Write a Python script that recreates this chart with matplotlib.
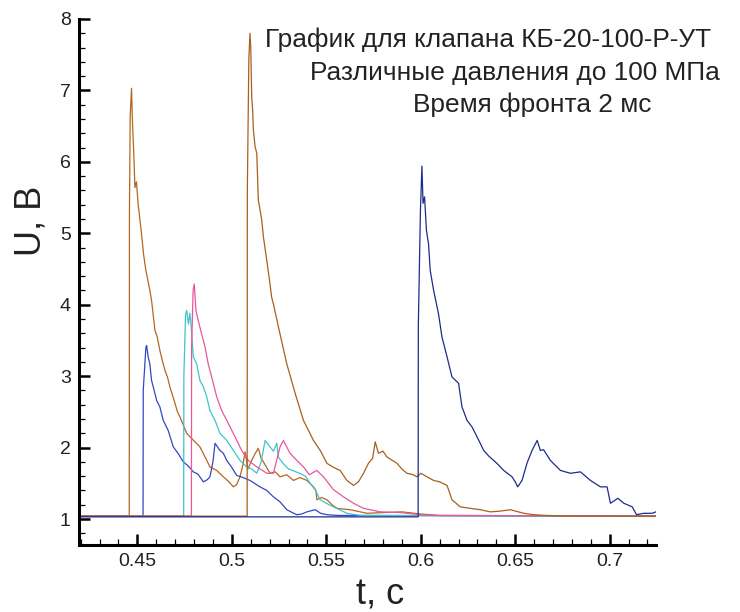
import matplotlib
matplotlib.use("Agg")
from matplotlib import pyplot as plt
from matplotlib.ticker import MultipleLocator

plt.rcParams['font.family'] = ['Liberation Sans', 'DejaVu Sans']

# baseline level of all signals
base = 1.04
t_start = 0.4191
t_end = 0.7245

# brown signal, first front
t_br1 = [t_start, 0.4457, 0.4458, 0.4462, 0.4469, 0.4473, 0.4481, 0.4487, 0.4495, 0.4504,
         0.4513, 0.4522, 0.4533, 0.4545, 0.4566, 0.4575, 0.4593, 0.4605, 0.4619, 0.4632,
         0.4646, 0.4660, 0.4672, 0.4685, 0.4699, 0.4712, 0.4725, 0.4761, 0.4790, 0.4831,
         0.4860, 0.4884, 0.4920, 0.4955, 0.4985, 0.5008, 0.5025, 0.5043, 0.5058, 0.5070,
         0.5085, 0.5105, 0.5120, 0.5140, 0.5155, 0.5167, 0.5202, 0.5230, 0.5255, 0.5290,
         0.5326, 0.5360, 0.5397, 0.5432, 0.5445, 0.5450, 0.5475, 0.5503, 0.5530, 0.5556,
         0.5626, 0.5715, 0.5800, 0.5900, 0.6000, 0.6100, t_end]
u_br1 = [base, base, 5.3, 6.65, 7.03, 6.62, 6.11, 5.64, 5.72, 5.41,
         5.20, 4.99, 4.70, 4.48, 4.20, 4.06, 3.64, 3.55, 3.36, 3.22,
         3.08, 2.98, 2.85, 2.74, 2.62, 2.50, 2.43, 2.20, 2.12, 2.01,
         1.86, 1.73, 1.68, 1.59, 1.52, 1.45, 1.48, 1.59, 1.75, 1.94,
         1.70, 1.82, 1.90, 1.99, 1.85, 1.80, 1.64, 1.66, 1.59, 1.62,
         1.54, 1.58, 1.54, 1.45, 1.40, 1.27, 1.30, 1.27, 1.20, 1.15,
         1.13, 1.08, 1.09, 1.10, 1.07, 1.05, base]

# royal blue signal
t_bl = [t_start, 0.4530, 0.4531, 0.4545, 0.4549, 0.4557, 0.4566, 0.4575, 0.4584, 0.4602,
        0.4619, 0.4637, 0.4663, 0.4690, 0.4715, 0.4743, 0.4770, 0.4796, 0.4820, 0.4849,
        0.4870, 0.4884, 0.4900, 0.4911, 0.4937, 0.4955, 0.4973, 0.5000, 0.5026, 0.5060,
        0.5096, 0.5149, 0.5185, 0.5220, 0.5255, 0.5291, 0.5320, 0.5344, 0.5370, 0.5397,
        0.5441, 0.5470, 0.5503, 0.5560, t_end]
u_bl = [base, base, 2.80, 3.40, 3.43, 3.27, 3.17, 2.94, 2.85, 2.66,
        2.57, 2.38, 2.24, 2.01, 1.92, 1.80, 1.74, 1.66, 1.63, 1.52,
        1.55, 1.59, 1.80, 2.06, 1.96, 1.92, 1.82, 1.72, 1.61, 1.58,
        1.54, 1.45, 1.40, 1.31, 1.24, 1.13, 1.09, 1.06, 1.07, 1.10,
        1.13, 1.08, 1.06, 1.05, base]

# cyan signal
t_cy = [t_start, 0.4745, 0.4746, 0.4755, 0.4761, 0.4770, 0.4778, 0.4785, 0.4796, 0.4814,
        0.4831, 0.4849, 0.4867, 0.4884, 0.4911, 0.4937, 0.4973, 0.5008, 0.5043, 0.5079,
        0.5105, 0.5132, 0.5155, 0.5176, 0.5202, 0.5220, 0.5238, 0.5246, 0.5270, 0.5300,
        0.5350, 0.5390, 0.5414, 0.5441, 0.5467, 0.5500, 0.5538, 0.5609, 0.5679, t_end]
u_cy = [base, base, 3.00, 3.86, 3.92, 3.73, 3.88, 3.69, 3.27, 3.17,
        2.94, 2.85, 2.71, 2.52, 2.38, 2.20, 2.10, 1.96, 1.82, 1.73,
        1.70, 1.64, 1.80, 2.10, 2.01, 1.95, 2.06, 1.87, 1.78, 1.70,
        1.65, 1.60, 1.50, 1.41, 1.27, 1.22, 1.17, 1.08, 1.05, base]

# pink signal
t_pk = [t_start, 0.4786, 0.4787, 0.4795, 0.4801, 0.4810, 0.4822, 0.4840, 0.4858, 0.4875,
        0.4893, 0.4920, 0.4946, 0.4981, 0.5017, 0.5052, 0.5087, 0.5132, 0.5185, 0.5220,
        0.5240, 0.5255, 0.5273, 0.5308, 0.5344, 0.5379, 0.5410, 0.5450, 0.5485, 0.5538,
        0.5591, 0.5644, 0.5697, 0.5785, 0.5891, 0.6000, 0.6080, t_end]
u_pk = [base, base, 3.40, 4.20, 4.29, 3.92, 3.78, 3.59, 3.41, 3.17,
        2.99, 2.71, 2.52, 2.34, 2.15, 1.96, 1.82, 1.73, 1.64, 1.64,
        1.85, 2.01, 2.10, 1.92, 1.82, 1.73, 1.62, 1.68, 1.59, 1.41,
        1.31, 1.22, 1.15, 1.10, 1.09, 1.06, 1.05, base]

# brown signal, second front
t_br2 = [t_start, 0.5081, 0.5082, 0.5090, 0.5096, 0.5100, 0.5105, 0.5110, 0.5114, 0.5123,
         0.5132, 0.5140, 0.5158, 0.5167, 0.5185, 0.5202, 0.5211, 0.5220, 0.5255, 0.5291,
         0.5335, 0.5379, 0.5432, 0.5470, 0.5503, 0.5540, 0.5573, 0.5609, 0.5644, 0.5670,
         0.5697, 0.5723, 0.5745, 0.5759, 0.5776, 0.5800, 0.5820, 0.5850, 0.5874, 0.5900,
         0.5927, 0.5960, 0.5980, 0.6000, 0.6040, 0.6068, 0.6100, 0.6139, 0.6165, 0.6209,
         0.6260, 0.6315, 0.6368, 0.6420, 0.6474, 0.6545, 0.6600, 0.6660, 0.6800, t_end]
u_br2 = [base, base, 5.60, 7.45, 7.80, 7.61, 6.91, 6.73, 6.45, 6.21,
         6.12, 5.47, 5.19, 4.95, 4.62, 4.29, 4.10, 4.01, 3.59, 3.17,
         2.76, 2.38, 2.10, 1.95, 1.78, 1.72, 1.68, 1.54, 1.47, 1.52,
         1.64, 1.78, 1.85, 2.08, 1.92, 1.95, 1.87, 1.82, 1.78, 1.70,
         1.64, 1.62, 1.59, 1.64, 1.58, 1.54, 1.52, 1.47, 1.27, 1.17,
         1.15, 1.13, 1.10, 1.11, 1.13, 1.08, 1.06, 1.05, base, base]

# navy signal
t_nv = [t_start, 0.5986, 0.5987, 0.5998, 0.6006, 0.6012, 0.6020, 0.6030, 0.6041, 0.6050,
        0.6068, 0.6094, 0.6112, 0.6139, 0.6165, 0.6200, 0.6218, 0.6245, 0.6271, 0.6298,
        0.6333, 0.6360, 0.6386, 0.6410, 0.6439, 0.6483, 0.6500, 0.6513, 0.6536, 0.6562,
        0.6589, 0.6616, 0.6633, 0.6650, 0.6686, 0.6739, 0.6792, 0.6845, 0.6898, 0.6951,
        0.6986, 0.7004, 0.7043, 0.7075, 0.7119, 0.7142, 0.7180, 0.7225, t_end]
u_nv = [1.03, 1.03, 3.70, 5.30, 5.94, 5.42, 5.51, 5.04, 4.85, 4.48,
        4.20, 3.87, 3.55, 3.27, 2.99, 2.90, 2.57, 2.38, 2.29, 2.15,
        1.96, 1.88, 1.82, 1.76, 1.68, 1.59, 1.52, 1.45, 1.54, 1.78,
        1.96, 2.10, 1.96, 1.97, 1.82, 1.68, 1.64, 1.66, 1.54, 1.45,
        1.45, 1.22, 1.29, 1.22, 1.17, 1.06, 1.08, 1.08, 1.10]

series = [
    (t_br1, u_br1, '#b5661f'),
    (t_bl, u_bl, '#3347c4'),
    (t_cy, u_cy, '#3fc4cc'),
    (t_pk, u_pk, '#e8579c'),
    (t_br2, u_br2, '#a8601c'),
    (t_nv, u_nv, '#1d2c8c'),
]

fig = plt.figure(figsize=(7.4, 6.12), dpi=100)
ax = fig.add_axes([79 / 740, 1 - 545 / 612, (656 - 79) / 740, (545 - 19) / 612])

for t, u, c in series:
    ax.plot(t, u, color=c, lw=0.9)

ax.set_xlim(t_start, t_end)
ax.set_ylim(0.636, 8)
ax.xaxis.set_major_locator(MultipleLocator(0.05))
ax.xaxis.set_minor_locator(MultipleLocator(0.01))
ax.yaxis.set_major_locator(MultipleLocator(1))
ax.yaxis.set_minor_locator(MultipleLocator(0.2))
ax.set_xticks([0.45, 0.5, 0.55, 0.6, 0.65, 0.7])
ax.set_xticklabels(['0.45', '0.5', '0.55', '0.6', '0.65', '0.7'])

ax.spines['top'].set_visible(False)
ax.spines['right'].set_visible(False)
for s in ['left', 'bottom']:
    ax.spines[s].set_linewidth(2.2)
ax.tick_params(which='major', direction='in', length=8, width=1.8, labelsize=14,
               pad=6, labelcolor='#222222')
ax.tick_params(which='minor', direction='in', length=4, width=0.9)

fig.text(31 / 740, 1 - 221 / 612, 'U, В', rotation=90, fontsize=26,
         ha='center', va='center', color='#222222')
fig.text(380 / 740, 1 - 595 / 612, 't, с', fontsize=26,
         ha='center', va='center', color='#222222')

fig.text(265 / 740, 1 - 47 / 612, 'График для клапана КБ-20-100-Р-УТ',
         fontsize=18.9, ha='left', va='baseline', color='#222222')
fig.text(310 / 740, 1 - 80 / 612, 'Различные давления до 100 МПа',
         fontsize=18.9, ha='left', va='baseline', color='#222222')
fig.text(413 / 740, 1 - 112 / 612, 'Время фронта 2 мс',
         fontsize=18.9, ha='left', va='baseline', color='#222222')

fig.savefig('out.png', dpi=100)
